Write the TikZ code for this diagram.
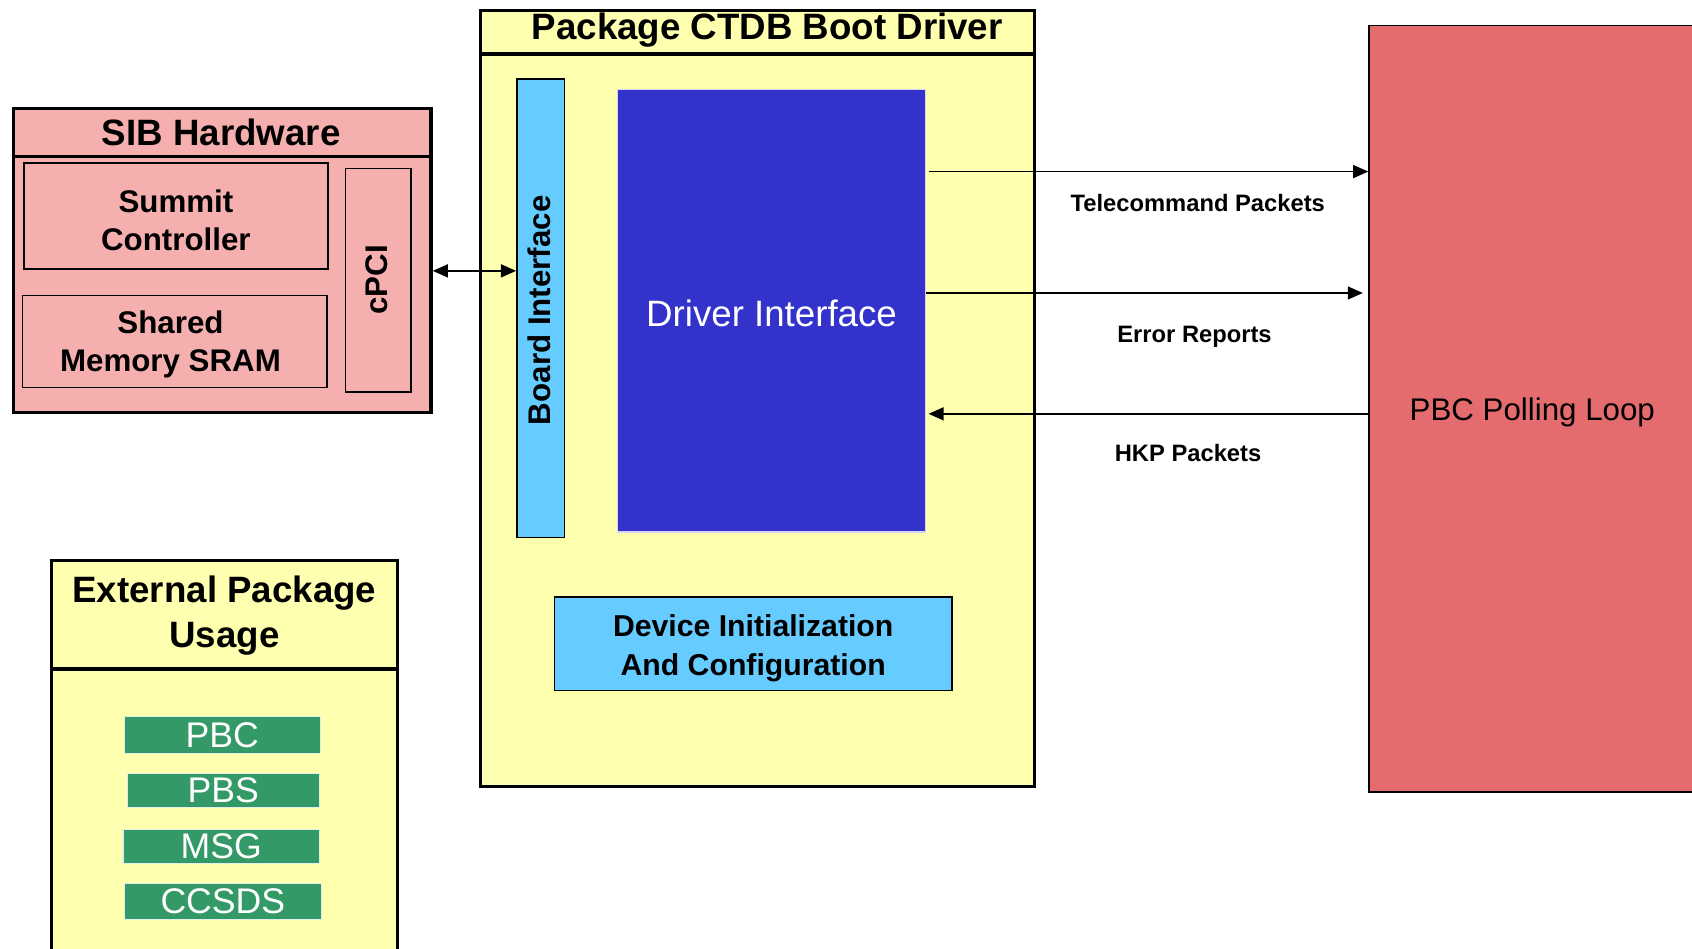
\documentclass[tikz,border=0pt]{standalone}
\usepackage{fontspec}
\setmainfont{Liberation Sans}
\usetikzlibrary{arrows.meta}
\definecolor{sibpink}{HTML}{F5AFAF}
\definecolor{pkgyel}{HTML}{FFFFB0}
\definecolor{ltblue}{HTML}{66CCFF}
\definecolor{drvblue}{HTML}{3333CC}
\definecolor{pkggreen}{HTML}{339966}
\definecolor{pbcred}{HTML}{E46C6E}
\tikzset{
  outerbox/.style={draw=black, line width=3pt, inner sep=0pt, anchor=north west},
  innerbox/.style={draw=black, line width=1.5pt, inner sep=0pt, align=center},
  titletext/.style={font=\bfseries\fontsize{34}{41}\selectfont, align=center, inner sep=0pt},
  bodybold/.style={font=\bfseries\fontsize{29}{35}\selectfont},
  greenbox/.style={fill=pkggreen, draw=white!85!pkggreen, line width=1pt, inner sep=0pt,
    text=white, font=\fontsize{33}{38}\selectfont},
  arr/.style={line width=1.5pt, -{Triangle[length=14pt,width=12pt]}},
  dblarr/.style={line width=1.5pt, {Triangle[length=14pt,width=12pt]}-{Triangle[length=14pt,width=12pt]}},
  lbl/.style={font=\bfseries\fontsize{22}{26}\selectfont, inner sep=0pt}
}
\begin{document}
\begin{tikzpicture}[x=1pt,y=-1pt]
\useasboundingbox (0,0) rectangle (1568,879);
\clip (0,0) rectangle (1568,879);

% PBC Polling Loop
\node[draw=black, line width=1.5pt, fill=pbcred, inner sep=0pt, anchor=north west,
  minimum width=320pt, minimum height=710pt] (pbc) at (1268,23) {};
\node[font=\fontsize{29}{35}\selectfont, inner sep=0pt] (pbctxt) at (1420,382) {PBC Polling Loop};

% SIB Hardware
\node[outerbox, fill=sibpink, minimum width=387pt, minimum height=282pt] (sib) at (11,99) {};
\draw[line width=3pt] (sib.west |- 0,145) coordinate (sibdl) -- (sib.east |- 0,145) coordinate (sibdr);
\node[titletext] (sibtitle) at (205,123) {SIB Hardware};
\node[innerbox, minimum width=282pt, minimum height=98pt] (summit) at (163,200) {};
\node[bodybold, align=center, inner sep=0pt] (summittxt) at (163,204) {Summit\\Controller};
\node[innerbox, minimum width=282pt, minimum height=85pt] (shared) at (162,316.5) {};
\node[bodybold, align=center, inner sep=0pt] (sharedtxt) at (158,319.5) {Shared\\Memory SRAM};
\node[innerbox, minimum width=61pt, minimum height=207pt] (cpci) at (350.5,259.5) {};
\node[bodybold, rotate=90, inner sep=0pt] (cpcitxt) at (349,259.5) {cPCI};

% Package CTDB Boot Driver
\node[outerbox, fill=pkgyel, minimum width=513pt, minimum height=719pt] (pkg) at (444,8) {};
\draw[line width=3pt] (pkg.west |- 0,50) coordinate (pkgdl) -- (pkg.east |- 0,50) coordinate (pkgdr);
\node[titletext] (pkgtitle) at (711,28) {Package CTDB Boot Driver};
\node[innerbox, fill=ltblue, minimum width=44pt, minimum height=425pt] (board) at (501,285.5) {};
\node[bodybold, rotate=90, inner sep=0pt] (boardtxt) at (499.5,287.5) {Board Interface};
\node[draw=white!80!drvblue, line width=1pt, fill=drvblue, inner sep=0pt,
  minimum width=286pt, minimum height=410pt] (drv) at (715,288) {};
\node[text=white, font=\fontsize{34}{41}\selectfont, inner sep=0pt] (drvtxt) at (715,290) {Driver Interface};
\node[innerbox, fill=ltblue, minimum width=368pt, minimum height=87pt] (dev) at (698,596.5) {};
\node[font=\bfseries\fontsize{28}{36}\selectfont, align=center, inner sep=0pt] (devtxt) at (698,600.5)
  {Device Initialization\\And Configuration};

% External Package Usage
\node[outerbox, fill=pkgyel, minimum width=321pt, minimum height=400pt] (ext) at (46,518) {};
\draw[line width=3pt] (ext.west |- 0,620) coordinate (extdl) -- (ext.east |- 0,620) coordinate (extdr);
\node[titletext] (exttitle) at (208,570.5) {External Package\\Usage};
\node[greenbox, minimum width=182pt, minimum height=34pt] (gpbc) at (206,681) {PBC};
\node[greenbox, minimum width=178pt, minimum height=31pt] (gpbs) at (207,732.5) {PBS};
\node[greenbox, minimum width=182pt, minimum height=31pt] (gmsg) at (205,784.5) {MSG};
\node[greenbox, minimum width=183pt, minimum height=33pt] (gccsds) at (206.5,835.5) {CCSDS};

% Connectors
\coordinate (yhw) at (0,251);
\draw[dblarr] (sib.east |- yhw) -- (board.west |- yhw);
\coordinate (ytc) at (0,159);
\draw[arr] ([xshift=2pt]drv.east |- ytc) -- (pbc.west |- ytc);
\coordinate (yer) at (0,271.5);
\draw[arr, shorten >=5pt] (drv.east |- yer) -- (pbc.west |- yer);
\coordinate (yhk) at (0,383.5);
\draw[arr] (pbc.west |- yhk) -- ([xshift=2pt]drv.east |- yhk);

\node[lbl] (ltc) at (1110,188.5) {Telecommand Packets};
\node[lbl] (ler) at (1107,312.5) {Error Reports};
\node[lbl] (lhk) at (1101,419.5) {HKP Packets};
\end{tikzpicture}
\end{document}
